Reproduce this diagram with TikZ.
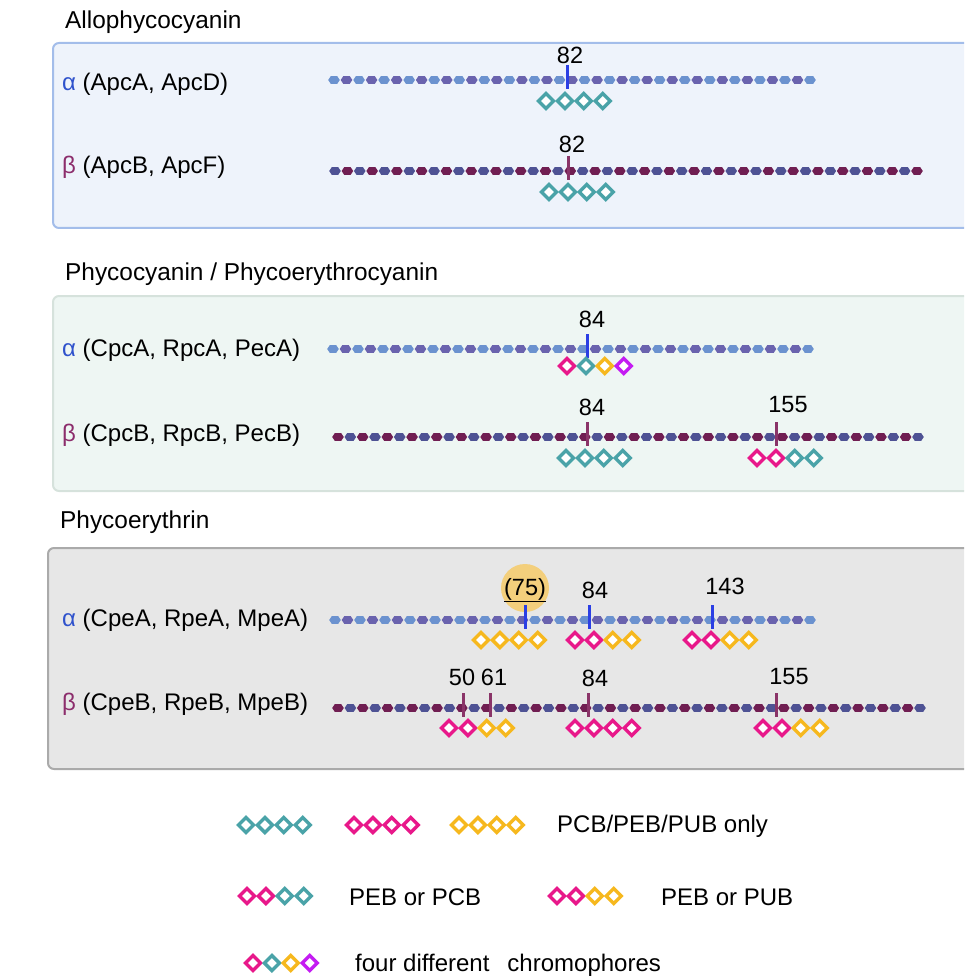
\documentclass[tikz,border=0pt]{standalone}
\usepackage{fontspec}
\setmainfont{Liberation Sans}
\definecolor{teal}{HTML}{4AA3A8}
\definecolor{pinkc}{HTML}{E8188A}
\definecolor{yell}{HTML}{F6B81E}
\definecolor{viol}{HTML}{C41CF2}
\definecolor{mblue}{HTML}{2B3FE4}
\definecolor{mmaroon}{HTML}{8A3468}
\definecolor{alphac}{HTML}{2F52CC}
\definecolor{betac}{HTML}{8C2D6C}
\definecolor{beadA}{HTML}{6B92CF}
\definecolor{beadB}{HTML}{6A63AE}
\definecolor{beadC}{HTML}{4E5294}
\definecolor{beadD}{HTML}{701E52}
\definecolor{hilite}{HTML}{F3CF7C}
\definecolor{apcfill}{HTML}{EEF3FB}
\definecolor{apcdraw}{HTML}{A3BDEA}
\definecolor{pcfill}{HTML}{EEF6F3}
\definecolor{pcdraw}{HTML}{D6E2DC}
\definecolor{pefill}{HTML}{E7E7E7}
\definecolor{pedraw}{HTML}{AAAAAA}

% polypeptide chain: x0, x1, y, intervals, colour even, colour odd
\newcommand\chain[6]{%
  \pgfmathsetmacro\pitch{(#2-#1)/#4}%
  \foreach \i in {0,...,#4}{%
    \pgfmathsetmacro\cx{#1+\pitch*\i}%
    \ifodd\i\def\cc{#6}\else\def\cc{#5}\fi
    \fill[\cc] (\cx-5.8,#3) -- (\cx-3.2,#3-3.9) -- (\cx+3.2,#3-3.9) -- (\cx+5.8,#3)
      -- (\cx+3.2,#3+3.9) -- (\cx-3.2,#3+3.9) -- cycle;
  }}
% one chromophore diamond
\newcommand\dia[3]{%
  \draw[line width=3.4,fill=white,draw=#3] (#1-7.5,#2) -- (#1,#2-7.5) -- (#1+7.5,#2) -- (#1,#2+7.5) -- cycle;}
% a row of four diamonds: first centre x, y, four colours
\newcommand\dgroup[6]{%
  \dia{#1}{#2}{#3}\dia{#1+18.9}{#2}{#4}\dia{#1+37.8}{#2}{#5}\dia{#1+56.7}{#2}{#6}}
% binding-site marker: x, chain y, colour
\newcommand\site[3]{\draw[line width=3,#3] (#1,#2-15) -- (#1,#2+9);}

\tikzset{
  txt/.style={font=\fontsize{24}{28}\selectfont, inner sep=0pt, anchor=west},
  ttl/.style={font=\fontsize{24.4}{28}\selectfont, inner sep=0pt, anchor=west},
  num/.style={font=\fontsize{23.5}{27}\selectfont, inner sep=0pt},
  panel/.style={rounded corners=6, line width=2},
}

\begin{document}
\begin{tikzpicture}[x=1pt,y=-1pt]
\useasboundingbox (0,0) rectangle (964,976);
\clip (0,0) rectangle (964,976);

% ---------- Allophycocyanin ----------
\node[ttl] (t1) at (65,22) {Allophycocyanin};
\filldraw[panel, fill=apcfill, draw=apcdraw] (53,43) rectangle (990,228);
\node[txt] (a1) at (62,84) {\textcolor{alphac}{α} (ApcA, ApcD)};
\node[txt] (b1) at (62,167) {\textcolor{betac}{β} (ApcB, ApcF)};
\chain{334}{810}{80}{38}{beadA}{beadB}
\site{567}{80}{mblue}
\node[num] (n1) at (570,55) {82};
\dgroup{546}{101}{teal}{teal}{teal}{teal}
\chain{335}{917}{171}{47}{beadC}{beadD}
\site{568}{171}{mmaroon}
\node[num] (n2) at (572,144) {82};
\dgroup{549}{192}{teal}{teal}{teal}{teal}

% ---------- Phycocyanin / Phycoerythrocyanin ----------
\node[ttl] (t2) at (65,274) {Phycocyanin / Phycoerythrocyanin};
\filldraw[panel, fill=pcfill, draw=pcdraw] (53,296) rectangle (990,491);
\node[txt] (a2) at (62,350) {\textcolor{alphac}{α} (CpcA, RpcA, PecA)};
\node[txt] (b2) at (62,435) {\textcolor{betac}{β} (CpcB, RpcB, PecB)};
\chain{333}{808}{349}{38}{beadA}{beadB}
\site{587}{349}{mblue}
\node[num] (n3) at (592,319) {84};
\dgroup{567}{366}{pinkc}{teal}{yell}{viol}
\chain{338}{918}{437}{47}{beadD}{beadC}
\site{587}{437}{mmaroon}
\node[num] (n4) at (592,407) {84};
\dgroup{566}{458}{teal}{teal}{teal}{teal}
\site{776}{437}{mmaroon}
\node[num] (n5) at (788,405) {155};
\dgroup{757}{458}{pinkc}{pinkc}{teal}{teal}

% ---------- Phycoerythrin ----------
\node[ttl] (t3) at (60,522) {Phycoerythrin};
\filldraw[panel, fill=pefill, draw=pedraw] (48,548) rectangle (990,769);
\node[txt] (a3) at (62,620) {\textcolor{alphac}{α} (CpeA, RpeA, MpeA)};
\node[txt] (b3) at (62,704) {\textcolor{betac}{β} (CpeB, RpeB, MpeB)};
\fill[hilite] (525,588) circle (24);
\chain{335}{810}{620}{38}{beadA}{beadB}
\site{525}{620}{mblue}
\node[num] (n6) at (525,590) {\underline{(75)}};
\site{589}{620}{mblue}
\node[num] (n7) at (595,590) {84};
\site{712}{620}{mblue}
\node[num] (n8) at (725,586) {143};
\dgroup{481}{640}{yell}{yell}{yell}{yell}
\dgroup{575}{640}{pinkc}{pinkc}{yell}{yell}
\dgroup{692}{640}{pinkc}{pinkc}{yell}{yell}
\chain{338}{920}{708}{47}{beadD}{beadC}
\site{463}{708}{mmaroon}
\site{490}{708}{mmaroon}
\site{588}{708}{mmaroon}
\site{776}{708}{mmaroon}
\node[num] (n9) at (462,677) {50};
\node[num] (n10) at (494,677) {61};
\node[num] (n11) at (595,678) {84};
\node[num] (n12) at (789,677) {155};
\dgroup{449}{728}{pinkc}{pinkc}{yell}{yell}
\dgroup{575}{728}{pinkc}{pinkc}{pinkc}{pinkc}
\dgroup{763}{728}{pinkc}{pinkc}{yell}{yell}

% ---------- legend ----------
\dgroup{246}{825}{teal}{teal}{teal}{teal}
\dgroup{354}{825}{pinkc}{pinkc}{pinkc}{pinkc}
\dgroup{459}{825}{yell}{yell}{yell}{yell}
\node[txt] (l1) at (557,826) {PCB/PEB/PUB only};
\dgroup{247}{896}{pinkc}{pinkc}{teal}{teal}
\node[txt] (l2) at (349,897) {PEB or PCB};
\dgroup{557}{896}{pinkc}{pinkc}{yell}{yell}
\node[txt] (l3) at (661,897) {PEB or PUB};
\dgroup{253}{963}{pinkc}{teal}{yell}{viol}
\node[txt] (l4) at (355,965) {four different\hspace{0.75em}chromophores};
\end{tikzpicture}
\end{document}
